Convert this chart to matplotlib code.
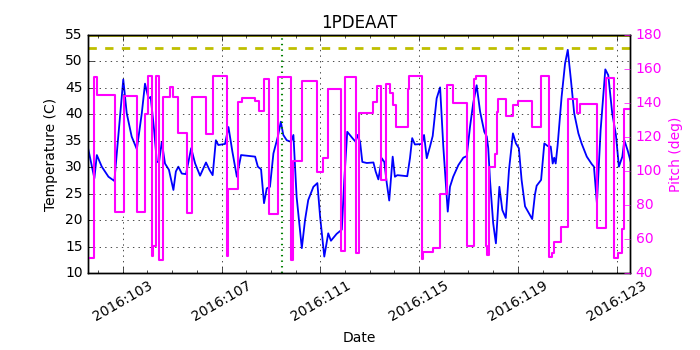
import matplotlib
matplotlib.use('Agg')
import matplotlib.pyplot as plt
from matplotlib.ticker import FuncFormatter, FixedLocator, MultipleLocator

plt.style.use('classic')

MSID = "1PDEAAT"
PLANNING_LIMIT = 52.5
CAUTION_LIMIT = 55.0
MARKER_DAY = 109.44
DATE_TICKS = [103, 107, 111, 115, 119, 123]

# temperature (C) vs day of year 2016
temp_days = [101.60, 101.85, 101.95, 102.15, 102.42, 102.66, 103.02, 103.16, 103.36, 103.57,
             103.77, 103.90, 104.04, 104.13, 104.27, 104.38, 104.47, 104.58, 104.71, 104.87,
             105.05, 105.15, 105.25, 105.39, 105.56, 105.77, 105.93, 106.13, 106.37, 106.51,
             106.64, 106.77, 106.87, 107.14, 107.28, 107.44, 107.62, 107.79, 108.36, 108.47,
             108.60, 108.72, 108.83, 108.96, 109.10, 109.28, 109.40, 109.50, 109.64, 109.81,
             109.91, 110.04, 110.25, 110.38, 110.51, 110.72, 110.88, 110.99, 111.16, 111.32,
             111.43, 111.66, 111.87, 111.97, 112.09, 112.30, 112.43, 112.51, 112.61, 112.70,
             112.88, 113.15, 113.24, 113.35, 113.49, 113.59, 113.69, 113.79, 113.93, 114.02,
             114.12, 114.52, 114.63, 114.72, 114.83, 115.11, 115.20, 115.31, 115.44, 115.55,
             115.71, 115.85, 115.98, 116.16, 116.25, 116.38, 116.59, 116.79, 116.93, 117.06,
             117.19, 117.33, 117.47, 117.64, 117.74, 117.80, 117.87, 118.00, 118.11, 118.25,
             118.37, 118.51, 118.64, 118.80, 118.92, 119.04, 119.15, 119.29, 119.58, 119.69,
             119.76, 119.94, 120.07, 120.21, 120.33, 120.41, 120.47, 120.53, 120.61, 120.77,
             120.91, 121.02, 121.15, 121.28, 121.45, 121.58, 121.79, 121.99, 122.08, 122.20,
             122.35, 122.54, 122.66, 122.82, 122.97, 123.09, 123.23, 123.31, 123.45, 123.57]
temps = [33.5, 27.9, 32.3, 30.1, 28.2, 27.4, 46.6, 40.2, 35.8, 33.4,
         40.2, 45.8, 43.0, 43.3, 37.0, 31.0, 31.0, 34.8, 30.7, 29.5,
         25.7, 29.2, 30.1, 28.8, 28.7, 33.6, 30.7, 28.4, 30.9, 29.5,
         28.5, 35.1, 34.2, 34.4, 37.6, 32.9, 28.2, 32.3, 32.0, 30.1,
         29.6, 23.2, 26.0, 26.3, 32.6, 35.8, 38.6, 36.1, 35.1, 34.8,
         36.1, 24.4, 14.7, 20.0, 23.8, 26.3, 27.0, 20.7, 13.1, 17.5,
         16.1, 17.4, 18.2, 27.6, 36.7, 35.5, 34.8, 36.1, 34.8, 31.0,
         30.8, 30.9, 29.2, 27.7, 31.7, 31.0, 27.0, 23.7, 32.0, 28.2,
         28.5, 28.3, 31.7, 35.5, 34.3, 34.4, 36.1, 31.7, 33.9, 35.9,
         43.0, 45.1, 33.9, 21.6, 26.3, 28.2, 30.4, 31.8, 32.1, 37.6,
         42.1, 45.5, 40.5, 36.7, 35.8, 33.6, 27.6, 19.4, 15.6, 26.3,
         21.9, 20.4, 29.5, 36.4, 34.5, 33.6, 27.6, 22.6, 20.2, 24.8,
         26.5, 27.6, 34.5, 34.0, 33.9, 30.7, 31.8, 30.7, 34.2, 43.3,
         49.6, 52.2, 46.4, 40.2, 36.4, 34.5, 32.0, 30.6, 30.1, 23.2,
         37.0, 48.5, 47.4, 40.2, 36.1, 30.1, 32.0, 35.1, 33.1, 31.0]

# pitch (deg) steps: value holds from each day until the next
pitch_days = [101.60, 101.85, 101.97, 102.69, 103.05, 103.57, 103.90, 104.01, 104.17, 104.24,
              104.34, 104.47, 104.62, 104.91, 105.05, 105.25, 105.59, 105.82, 106.37, 106.67,
              107.21, 107.28, 107.66, 107.82, 108.36, 108.53, 108.73, 108.94, 109.30, 109.80,
              109.91, 110.25, 110.85, 111.12, 111.32, 111.83, 112.00, 112.45, 112.57, 113.15,
              113.28, 113.45, 113.66, 113.82, 113.96, 114.05, 114.54, 114.60, 115.11, 115.17,
              115.57, 115.85, 116.13, 116.38, 116.93, 117.23, 117.30, 117.70, 117.76, 117.83,
              118.07, 118.14, 118.21, 118.51, 118.81, 118.99, 119.58, 119.94, 120.26, 120.40,
              120.47, 120.73, 121.04, 121.38, 121.51, 122.19, 122.21, 122.55, 122.89, 123.06,
              123.23, 123.30, 123.54]
pitch = [49.0, 155.4, 144.6, 75.8, 144.2, 76.0, 133.3, 155.8, 50.0, 56.0,
         155.8, 47.7, 143.6, 149.5, 143.6, 122.5, 75.2, 143.6, 121.7, 156.0,
         50.0, 89.3, 140.7, 142.7, 141.3, 135.2, 154.4, 74.6, 155.4, 47.7,
         105.9, 153.0, 99.3, 107.8, 148.1, 53.2, 155.4, 52.0, 134.2, 140.7,
         149.9, 94.7, 151.0, 146.0, 138.7, 125.7, 148.5, 156.0, 48.5, 52.3,
         54.6, 86.5, 150.7, 140.1, 56.0, 154.0, 155.8, 56.0, 50.3, 102.2,
         110.0, 134.8, 142.3, 132.3, 138.7, 141.3, 126.0, 155.8, 49.7, 52.0,
         58.5, 67.3, 142.3, 133.9, 139.3, 138.6, 66.7, 155.0, 48.8, 52.0,
         65.8, 136.4, 136.4]

fig = plt.figure(figsize=(7, 3.5), dpi=100)
ax = fig.add_axes([0.126, 0.22, 0.774, 0.68])

ax.plot(temp_days, temps, 'b-', lw=1.3)
ax.axhline(PLANNING_LIMIT, color='y', ls='--', lw=2.0)
ax.axhline(CAUTION_LIMIT, color='y', ls='-', lw=2.0)
ax.axvline(MARKER_DAY, color='g', ls=':', lw=1.5)
ax.set_xlim(101.6, 123.54)
ax.set_ylim(10, 55)
ax.grid(True)
ax.xaxis.set_major_locator(FixedLocator(DATE_TICKS))
ax.xaxis.set_minor_locator(MultipleLocator(1))
ax.xaxis.set_major_formatter(FuncFormatter(lambda d, pos: '2016:%03d' % round(d)))
ax.tick_params(axis='both', labelsize=10)
for lab in ax.get_xticklabels():
    lab.set_rotation(30)
ax.set_xlabel('Date', fontsize=10)
ax.set_ylabel('Temperature (C)', fontsize=10)
ax.set_title(MSID, fontsize=12)

ax2 = ax.twinx()
ax2.plot(pitch_days, pitch, color='#ff00ff', drawstyle='steps-post', lw=1.5)
ax2.set_ylim(40, 180)
ax2.set_xlim(101.6, 123.54)
ax2.set_ylabel('Pitch (deg)', color='#ff00ff', fontsize=10)
ax2.tick_params(axis='y', colors='#ff00ff', labelsize=10)

fig.savefig('out.png', dpi=100)
